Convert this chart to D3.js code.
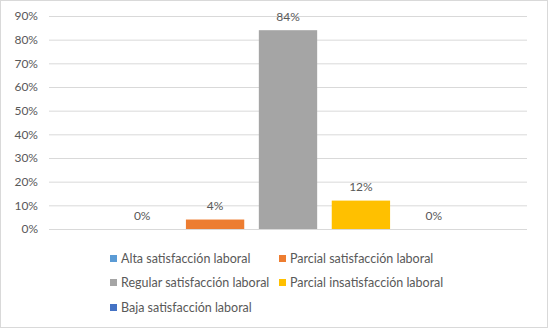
<!DOCTYPE html>
<html><head><meta charset="utf-8">
<script src="https://cdn.jsdelivr.net/npm/d3@7"></script>
<style>body{margin:0;background:#fff}svg{display:block}text{font-family:Lato,"Open Sans",sans-serif;fill:#595959}</style>
</head><body><svg id="c" width="548" height="329"></svg>
<script>
const series = ["Alta satisfacción laboral","Parcial satisfacción laboral","Regular satisfacción laboral","Parcial insatisfacción laboral","Baja satisfacción laboral"];
const values = [0, 4, 84, 12, 0];
const colors = ["#5B9BD5","#ED7D31","#A5A5A5","#FFC000","#4472C4"];
const ticks = [0,10,20,30,40,50,60,70,80,90];

const svg = d3.select("#c");
svg.append("rect").attr("x",0.5).attr("y",0.5).attr("width",547).attr("height",327).attr("fill","#fff").attr("stroke","#d9d9d9");

const L=49, R=527, T=16, B=229;
const y = d3.scaleLinear().domain([0,90]).range([B,T]);
const x = d3.scaleBand().domain(series).range([L+64,R-64]).paddingInner(0.2).paddingOuter(0);

const yAxis = d3.axisLeft(y).tickValues(ticks).tickFormat(d=>d+"%").tickSize(-(R-L)).tickPadding(11);
const g = svg.append("g").attr("transform",`translate(${L},0)`).call(yAxis);
g.select(".domain").remove();
g.selectAll(".tick line").attr("stroke","#d9d9d9");
g.selectAll(".tick text").style("font-size","12px").attr("fill","#595959");

svg.selectAll(".bar").data(values).join("rect")
  .attr("x",(d,i)=>x(series[i])).attr("width",x.bandwidth())
  .attr("y",d=>y(d)).attr("height",d=>B-y(d)).attr("fill",(d,i)=>colors[i]);

svg.selectAll(".lbl").data(values).join("text")
  .attr("x",(d,i)=>x(series[i])+x.bandwidth()/2).attr("y",d=>y(d)-9.5)
  .attr("text-anchor","middle").style("font-size","12px").text(d=>d+"%");

const pos = [[110,259],[279,259],[110,283],[279,283],[110,308]];
const lg = svg.selectAll(".lg").data(series).join("g").attr("transform",(d,i)=>`translate(${pos[i][0]},${pos[i][1]})`);
lg.append("rect").attr("x",0).attr("y",-4).attr("width",7).attr("height",7).attr("fill",(d,i)=>colors[i]);
lg.append("text").attr("x",11).attr("y",4).style("font-size","12.5px").text(d=>d);
</script></body></html>
